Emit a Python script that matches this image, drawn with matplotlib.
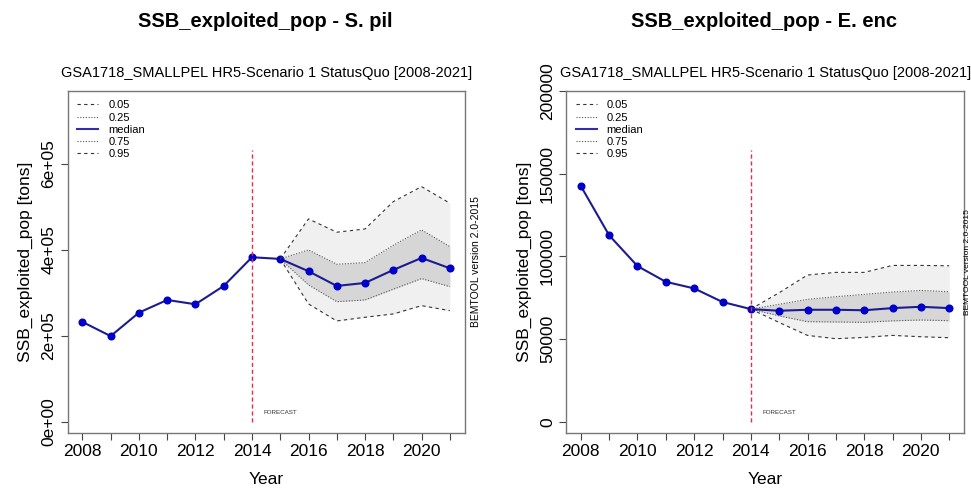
import numpy as np
import matplotlib
matplotlib.use("Agg")
import matplotlib.pyplot as plt
from matplotlib.lines import Line2D

plt.rcParams['font.family'] = ['Liberation Sans', 'DejaVu Sans']

# ---- datos ----
anios = np.arange(2008, 2022)

# S. pil
pil_mediana = [232000, 199000, 253500, 283000, 273000, 315600, 382300,
               378400, 349800, 315600, 322600, 352800, 380700, 356700]
pil_anios_q = np.arange(2015, 2022)
pil_q05 = [378400, 273700, 234200, 242800, 250500, 269800, 258100]
pil_q25 = [378400, 318000, 279000, 283000, 308000, 332600, 314000]
pil_q75 = [378400, 399300, 366000, 369800, 410000, 445900, 407000]
pil_q95 = [378400, 471400, 440500, 448000, 511600, 546500, 508000]

# E. enc
enc_mediana = [142500, 112700, 94100, 84600, 80600, 72400, 68100,
               67100, 67700, 67700, 67400, 68700, 69500, 68700]
enc_anios_q = np.arange(2014, 2022)
enc_q05 = [68100, 60000, 52200, 50200, 51000, 52200, 51400, 50800]
enc_q25 = [68100, 64000, 60500, 60300, 60100, 61000, 61500, 61100]
enc_q75 = [68100, 71000, 74000, 75600, 77000, 78400, 79400, 78600]
enc_q95 = [68100, 78000, 88700, 90300, 90300, 94500, 94500, 94300]

subtitulo = "GSA1718_SMALLPEL HR5-Scenario 1 StatusQuo [2008-2021]"

guion = (0, (3, 3))
punto = (0, (1, 1.5))


def panel(ax, mediana, anios_q, q05, q25, q75, q95, ylim, yticks, yticklabels, linea_max):
    ax.fill_between(anios_q, q05, q95, color='#f0f0f0', lw=0)
    ax.fill_between(anios_q, q25, q75, color='#d6d6d6', lw=0)
    ax.plot(anios_q, q05, color='#333333', ls=guion, lw=0.8)
    ax.plot(anios_q, q25, color='#555555', ls=punto, lw=0.8)
    ax.plot(anios, mediana, color='#1c1c8f', lw=1.5, marker='o', ms=4.8,
            mfc='#0000c8', mec='#0000c8')
    ax.plot(anios_q, q75, color='#555555', ls=punto, lw=0.8)
    ax.plot(anios_q, q95, color='#333333', ls=guion, lw=0.8)
    ax.plot([2014, 2014], [0, linea_max], color='#e03048', ls=(0, (3, 2)), lw=1.0)
    ax.text(2014.4, ylim[1] * 0.027, "FORECAST", fontsize=4.5, color='#333333', va='center')

    ax.set_xlim(2007.48, 2021.53)
    ax.set_ylim(*ylim)
    ax.set_xticks(anios)
    ax.set_xticklabels([str(a) if a % 2 == 0 else '' for a in anios])
    ax.set_yticks(yticks)
    ax.set_yticklabels(yticklabels, rotation=90, va='center')
    ax.tick_params(direction='out', length=5, width=0.8, colors='#444444',
                   labelsize=12.5, labelcolor='black', pad=3)
    for s in ax.spines.values():
        s.set_color('#777777')
        s.set_linewidth(1)
    ax.set_xlabel("Year", fontsize=12.5, labelpad=9)
    ax.set_ylabel("SSB_exploited_pop [tons]", fontsize=12.5, labelpad=6)
    ax.set_title(subtitulo, fontsize=10.5, pad=10)

    manejadores = [Line2D([], [], color='#333333', ls=guion, lw=0.8),
                   Line2D([], [], color='#555555', ls=punto, lw=0.8),
                   Line2D([], [], color='#3030a8', lw=1.5),
                   Line2D([], [], color='#555555', ls=punto, lw=0.8),
                   Line2D([], [], color='#333333', ls=guion, lw=0.8)]
    ax.legend(manejadores, ['0.05', '0.25', 'median', '0.75', '0.95'],
              loc='upper left', frameon=False, fontsize=8, handlelength=1.9,
              labelspacing=0.2, borderaxespad=0.45, handletextpad=0.9)


fig = plt.figure(figsize=(9.71, 4.88), dpi=100)

ax1 = fig.add_axes([0.0697, 0.1127, 0.409, 0.701])
panel(ax1, pil_mediana, pil_anios_q, pil_q05, pil_q25, pil_q75, pil_q95,
      (-26300, 769000), [0, 200000, 400000, 600000],
      ['0e+00', '2e+05', '4e+05', '6e+05'], 632000)
ax1.text(1.016, 0.5, "BEMTOOL version 2.0-2015", transform=ax1.transAxes,
         rotation=90, fontsize=7.5, va='center', ha='left')

ax2 = fig.add_axes([0.583, 0.1127, 0.41, 0.701])
panel(ax2, enc_mediana, enc_anios_q, enc_q05, enc_q25, enc_q75, enc_q95,
      (-6800, 200000), [0, 50000, 100000, 150000, 200000],
      ['0', '50000', '100000', '150000', '200000'], 164300)
# en el original este texto queda pegado al borde derecho
fig.text(0.9995, 0.5 * (0.1127 + 0.8137), "BEMTOOL version 2.0-2015",
         rotation=90, fontsize=6, va='center', ha='right')

fig.text(0.273, 0.955, "SSB_exploited_pop - S. pil", fontsize=14.5, fontweight='bold',
         ha='center', va='center')
fig.text(0.787, 0.955, "SSB_exploited_pop - E. enc", fontsize=14.5, fontweight='bold',
         ha='center', va='center')

fig.savefig("out.png", dpi=100)
